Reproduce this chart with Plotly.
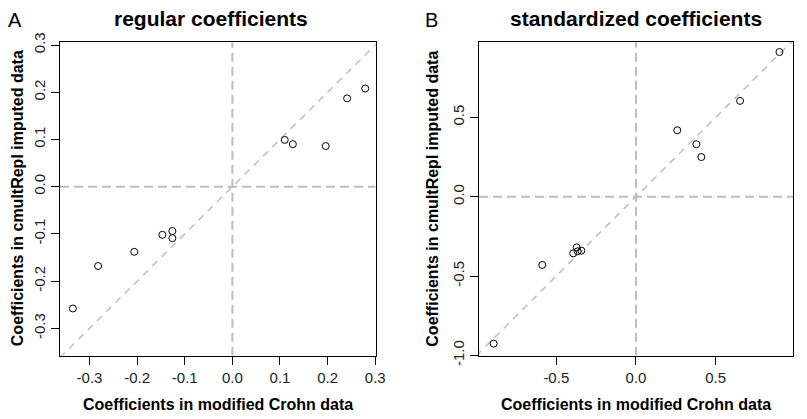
import plotly.graph_objects as go
from plotly.subplots import make_subplots

# panel A: regular coefficients
reg_crohn = [0.110, 0.127, 0.196, 0.241, 0.279,
             -0.147, -0.126, -0.126, -0.206, -0.282, -0.335]
reg_cmult = [0.099, 0.090, 0.086, 0.187, 0.208,
             -0.102, -0.094, -0.109, -0.138, -0.168, -0.258]

# panel B: standardized coefficients
std_crohn = [0.900, 0.653, 0.259, 0.379, 0.410,
             -0.893, -0.588, -0.372, -0.394, -0.366, -0.343]
std_cmult = [0.912, 0.604, 0.419, 0.331, 0.250,
             -0.926, -0.430, -0.319, -0.357, -0.344, -0.340]

reg_ticks = [-0.3, -0.2, -0.1, 0.0, 0.1, 0.2, 0.3]
std_ticks = [-1.0, -0.5, 0.0, 0.5]

reg_xrange = [-0.362, 0.301]
reg_yrange = [-0.358, 0.307]
std_xrange = [-0.985, 0.987]
std_yrange = [-1.002, 0.977]

# the page body has an 8px margin, so the figure is a bit smaller than the window
OFF = 8
W, H = 807 - OFF, 419 - OFF
FONT = "Liberation Sans, Arial, sans-serif"
GREY = "#BEBEBE"


def px_x(sx):
    return (sx - OFF) / W


def px_y(sy):
    return 1 - (sy - OFF) / H


fig = make_subplots(rows=1, cols=2)

fig.add_trace(go.Scatter(
    x=reg_crohn, y=reg_cmult, mode="markers",
    marker=dict(symbol="circle-open", size=7, color="black", line=dict(width=1, color="black")),
    showlegend=False), row=1, col=1)
fig.add_trace(go.Scatter(
    x=std_crohn, y=std_cmult, mode="markers",
    marker=dict(symbol="circle-open", size=7, color="black", line=dict(width=1, color="black")),
    showlegend=False), row=1, col=2)

# reference lines: x = 0, y = 0 and y = x
for xr, yr, ax in [(reg_xrange, reg_yrange, ""), (std_xrange, std_yrange, "2")]:
    fig.add_shape(type="line", xref="x" + ax, yref="y" + ax, x0=0, x1=0, y0=yr[0], y1=yr[1],
                  line=dict(color=GREY, width=2, dash="9px,5px"), layer="below")
    fig.add_shape(type="line", xref="x" + ax, yref="y" + ax, x0=xr[0], x1=xr[1], y0=0, y1=0,
                  line=dict(color=GREY, width=2, dash="9px,5px"), layer="below")
    lo = min(xr[0], yr[0])
    hi = max(xr[1], yr[1])
    fig.add_shape(type="line", xref="x" + ax, yref="y" + ax, x0=lo, x1=hi, y0=lo, y1=hi,
                  line=dict(color=GREY, width=1.5, dash="7px,6px"), layer="below")

axis_style = dict(showgrid=False, zeroline=False, showline=True, mirror=True, automargin=False,
                  linecolor="black", linewidth=1, ticks="outside", ticklen=8,
                  tickcolor="black", tickfont=dict(family=FONT, size=15, color="#222"))

fig.update_xaxes(**axis_style)
fig.update_yaxes(**axis_style)

ydom = [px_y(355.7), px_y(41.7)]
fig.update_xaxes(domain=[px_x(60), px_x(375.7)], range=reg_xrange, tickvals=reg_ticks,
                 ticktext=["%.1f" % t for t in reg_ticks], row=1, col=1)
fig.update_yaxes(domain=ydom, range=reg_yrange, tickvals=reg_ticks,
                 ticktext=["%.1f" % t for t in reg_ticks], tickangle=-90, row=1, col=1)
fig.update_xaxes(domain=[px_x(479), px_x(793.3)], range=std_xrange, tickvals=std_ticks,
                 ticktext=["%.1f" % t for t in std_ticks], row=1, col=2)
fig.update_yaxes(domain=ydom, range=std_yrange, tickvals=std_ticks,
                 ticktext=["%.1f" % t for t in std_ticks], tickangle=-90, row=1, col=2)

annots = [
    # panel letters
    dict(text="A", x=15, y=20, size=20, bold=False),
    dict(text="B", x=431, y=20, size=20, bold=False),
    # titles
    dict(text="regular coefficients", x=211.3, y=18.5, size=21, bold=True),
    dict(text="standardized coefficients", x=635.8, y=18.5, size=21, bold=True),
    # x axis titles
    dict(text="Coefficients in modified Crohn data", x=217.8, y=404, size=16, bold=True),
    dict(text="Coefficients in modified Crohn data", x=636.2, y=404, size=16, bold=True),
]
for a in annots:
    txt = "<b>%s</b>" % a["text"] if a["bold"] else a["text"]
    fig.add_annotation(text=txt, xref="paper", yref="paper", x=px_x(a["x"]), y=px_y(a["y"]),
                       xanchor="center", yanchor="middle", showarrow=False,
                       font=dict(family=FONT, size=a["size"], color="black"))

for xc in [17.5, 433]:
    fig.add_annotation(text="<b>Coefficients in cmultRepl imputed data</b>", xref="paper", yref="paper",
                       x=px_x(xc), y=px_y(198.7), xanchor="center", yanchor="middle",
                       textangle=-90, showarrow=False,
                       font=dict(family=FONT, size=16, color="black"))

fig.update_layout(width=W, height=H, margin=dict(l=0, r=0, t=0, b=0),
                  plot_bgcolor="white", paper_bgcolor="white", showlegend=False)

fig.write_html("out.html")
